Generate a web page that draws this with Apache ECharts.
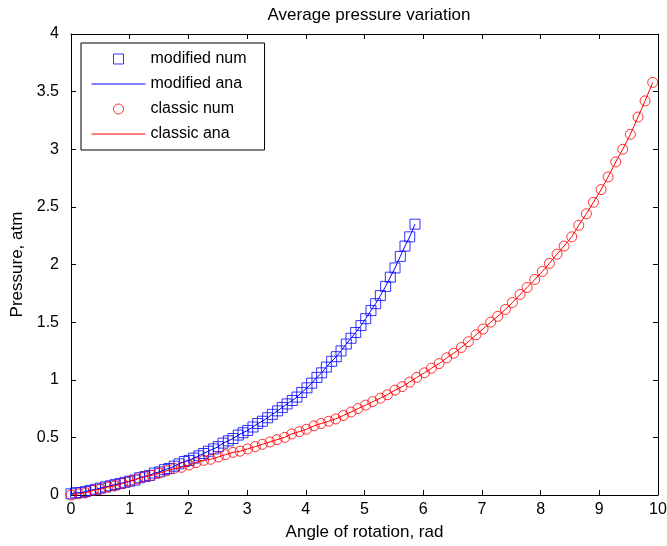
<!DOCTYPE html>
<html>
<head>
<meta charset="utf-8">
<script src="https://cdn.jsdelivr.net/npm/echarts@6/dist/echarts.min.js"></script>
<style>
  html, body { margin: 0; padding: 0; background: #fff; }
  #main { width: 667px; height: 546px; }
</style>
</head>
<body>
<div id="main"></div>
<script>
// modified scheme, numerical points (angle in rad, pressure in atm)
var modAngle = [0.00, 0.08, 0.17, 0.25, 0.33, 0.42, 0.50, 0.59, 0.67, 0.75,
    0.84, 0.92, 1.00, 1.09, 1.17, 1.26, 1.34, 1.42, 1.51, 1.59,
    1.67, 1.76, 1.84, 1.93, 2.01, 2.09, 2.18, 2.26, 2.34, 2.43,
    2.51, 2.59, 2.68, 2.76, 2.85, 2.93, 3.01, 3.10, 3.18, 3.26,
    3.35, 3.43, 3.52, 3.60, 3.68, 3.77, 3.85, 3.93, 4.02, 4.10,
    4.19, 4.27, 4.35, 4.44, 4.52, 4.60, 4.69, 4.77, 4.85, 4.94,
    5.02, 5.11, 5.19, 5.27, 5.36, 5.44, 5.52, 5.61, 5.69, 5.77, 5.86];
var modPressure = [0.01, 0.02, 0.02, 0.03, 0.04, 0.05, 0.06, 0.07, 0.08, 0.09,
    0.10, 0.11, 0.12, 0.13, 0.15, 0.16, 0.17, 0.19, 0.20, 0.22,
    0.23, 0.25, 0.27, 0.29, 0.30, 0.32, 0.34, 0.36, 0.38, 0.40,
    0.42, 0.45, 0.47, 0.49, 0.52, 0.54, 0.56, 0.59, 0.62, 0.64,
    0.67, 0.70, 0.73, 0.76, 0.79, 0.82, 0.85, 0.89, 0.93, 0.97,
    1.02, 1.06, 1.11, 1.16, 1.20, 1.25, 1.31, 1.36, 1.41, 1.47,
    1.53, 1.60, 1.66, 1.73, 1.81, 1.89, 1.97, 2.07, 2.16, 2.24, 2.35];

// classic scheme, numerical points
var clsAngle = [0.00, 0.13, 0.25, 0.38, 0.50, 0.63, 0.75, 0.88, 1.00, 1.13,
    1.25, 1.38, 1.50, 1.63, 1.76, 1.88, 2.01, 2.13, 2.26, 2.38,
    2.51, 2.63, 2.76, 2.88, 3.01, 3.14, 3.26, 3.39, 3.51, 3.64,
    3.76, 3.89, 4.01, 4.14, 4.26, 4.39, 4.51, 4.64, 4.77, 4.89,
    5.02, 5.14, 5.27, 5.39, 5.52, 5.64, 5.77, 5.89, 6.02, 6.14,
    6.27, 6.40, 6.52, 6.65, 6.77, 6.90, 7.02, 7.15, 7.27, 7.40,
    7.52, 7.65, 7.77, 7.90, 8.03, 8.15, 8.28, 8.40, 8.53, 8.65,
    8.78, 8.90, 9.03, 9.15, 9.28, 9.40, 9.53, 9.66, 9.78, 9.91];
var clsPressure = [0.00, 0.01, 0.02, 0.04, 0.05, 0.07, 0.08, 0.10, 0.12, 0.14,
    0.16, 0.17, 0.19, 0.21, 0.23, 0.24, 0.26, 0.28, 0.30, 0.31,
    0.33, 0.35, 0.37, 0.38, 0.40, 0.42, 0.44, 0.46, 0.48, 0.50,
    0.53, 0.55, 0.57, 0.60, 0.62, 0.64, 0.66, 0.69, 0.72, 0.75,
    0.78, 0.81, 0.84, 0.87, 0.91, 0.94, 0.98, 1.02, 1.06, 1.10,
    1.14, 1.19, 1.23, 1.28, 1.33, 1.39, 1.44, 1.50, 1.55, 1.61,
    1.67, 1.74, 1.80, 1.87, 1.94, 2.01, 2.09, 2.16, 2.24, 2.34,
    2.44, 2.54, 2.65, 2.76, 2.89, 3.00, 3.13, 3.28, 3.42, 3.58];

var xTicks = [0, 1, 2, 3, 4, 5, 6, 7, 8, 9, 10];
var yTicks = [0, 0.5, 1, 1.5, 2, 2.5, 3, 3.5, 4];

function pairs(xs, ys) {
    return xs.map(function (x, i) { return [x, ys[i]]; });
}

var myChart = echarts.init(document.getElementById('main'));

var font = 'Liberation Sans, Arial, sans-serif';
var noMark = { color: 'rgba(0,0,0,0)', borderColor: 'rgba(0,0,0,0)', borderWidth: 0 };
var axisCommon = {
    axisLine: { show: true, onZero: false, lineStyle: { color: '#000', width: 1 } },
    axisTick: { show: true, inside: true, length: 5, lineStyle: { color: '#000' } },
    splitLine: { show: false }
};

var option = {
    animation: false,
    backgroundColor: '#fff',
    title: {
        text: 'Average pressure variation',
        left: 364,
        top: 2,
        textAlign: 'center',
        textStyle: { fontFamily: font, fontSize: 17, fontWeight: 'normal', color: '#000' }
    },
    legend: {
        orient: 'vertical',
        left: 81,
        top: 43,
        padding: [8, 18, 8, 10],
        itemGap: 9,
        itemWidth: 54,
        itemHeight: 10,
        backgroundColor: '#fff',
        borderColor: '#000',
        borderWidth: 1,
        itemStyle: { borderWidth: 1 },
        lineStyle: { width: 1 },
        textStyle: { fontFamily: font, fontSize: 16, color: '#000' },
        data: [
            { name: 'modified num', icon: 'path://M0,0H10V10H0Z' },
            { name: 'modified ana', itemStyle: noMark },
            { name: 'classic num', icon: 'circle' },
            { name: 'classic ana', itemStyle: noMark }
        ]
    },
    grid: { left: 71, right: 9, top: 34, bottom: 51, containLabel: false, outerBoundsMode: 'none' },
    xAxis: [
        Object.assign({
            type: 'value', position: 'bottom',
            min: xTicks[0], max: xTicks[xTicks.length - 1], interval: 1,
            name: 'Angle of rotation, rad', nameLocation: 'middle', nameGap: 29,
            nameTextStyle: { fontFamily: font, fontSize: 17, color: '#000' },
            axisLabel: { fontFamily: font, fontSize: 16, color: '#000', margin: 7 }
        }, axisCommon),
        Object.assign({
            type: 'value', position: 'top',
            min: xTicks[0], max: xTicks[xTicks.length - 1], interval: 1,
            axisLabel: { show: false }
        }, axisCommon)
    ],
    yAxis: [
        Object.assign({
            type: 'value', position: 'left',
            min: yTicks[0], max: yTicks[yTicks.length - 1], interval: 0.5,
            name: 'Pressure, atm', nameLocation: 'middle', nameGap: 37, nameRotate: 90,
            nameTextStyle: { fontFamily: font, fontSize: 17, color: '#000' },
            axisLabel: { fontFamily: font, fontSize: 16, color: '#000', margin: 12 }
        }, axisCommon),
        Object.assign({
            type: 'value', position: 'right',
            min: yTicks[0], max: yTicks[yTicks.length - 1], interval: 0.5,
            axisLabel: { show: false }
        }, axisCommon)
    ],
    series: [
        {
            name: 'modified num',
            type: 'scatter',
            symbol: 'rect',
            symbolSize: 10,
            itemStyle: { color: 'rgba(0,0,0,0)', borderColor: '#0000ff', borderWidth: 1 },
            data: pairs(modAngle, modPressure),
            z: 3
        },
        {
            name: 'modified ana',
            type: 'line',
            symbol: 'none',
            itemStyle: { color: '#0000ff' },
            lineStyle: { color: '#0000ff', width: 1 },
            data: pairs(modAngle, modPressure),
            z: 4
        },
        {
            name: 'classic num',
            type: 'scatter',
            symbol: 'circle',
            symbolSize: 10,
            itemStyle: { color: 'rgba(0,0,0,0)', borderColor: '#ff0000', borderWidth: 1 },
            data: pairs(clsAngle, clsPressure),
            z: 3
        },
        {
            name: 'classic ana',
            type: 'line',
            symbol: 'none',
            itemStyle: { color: '#ff0000' },
            lineStyle: { color: '#ff0000', width: 1 },
            data: pairs(clsAngle, clsPressure),
            z: 4
        }
    ]
};

myChart.setOption(option, true);
window.onresize = myChart.resize;
</script>
</body>
</html>
